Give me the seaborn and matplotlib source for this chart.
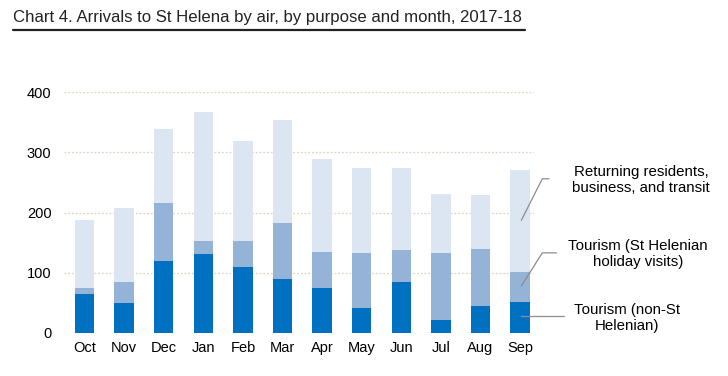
import pandas as pd
import matplotlib.pyplot as plt
import seaborn as sns
from matplotlib.lines import Line2D

# Monthly arrivals by air
months = ["Oct", "Nov", "Dec", "Jan", "Feb", "Mar",
          "Apr", "May", "Jun", "Jul", "Aug", "Sep"]
tourism_non_sh = [64, 49, 119, 131, 110, 89, 74, 42, 84, 21, 44, 51]
tourism_sh_holiday = [10, 35, 96, 21, 42, 93, 61, 91, 53, 111, 95, 50]
returning_other = [113, 123, 123, 214, 166, 171, 154, 141, 137, 99, 90, 170]

labels = ["Returning residents,\nbusiness, and transit",
          "Tourism (St Helenian\nholiday visits)",
          "Tourism (non-St\nHelenian)"]

df = pd.DataFrame({
    "month": months,
    "non_sh": tourism_non_sh,
    "sh": tourism_sh_holiday,
    "other": returning_other,
})
df["mid"] = df["non_sh"] + df["sh"]
df["total"] = df["mid"] + df["other"]

sns.set_style("white")
plt.rcParams["font.family"] = ["Liberation Sans", "DejaVu Sans"]

W, H = 728, 376
fig = plt.figure(figsize=(W / 100, H / 100), dpi=100)
ax = fig.add_axes([64 / W, 43 / H, 470 / W, 241 / H])

# Stacked bars: draw cumulative totals from the top down
for col, color in [("total", "#DCE6F2"), ("mid", "#95B3D7"), ("non_sh", "#0070C0")]:
    sns.barplot(data=df, x="month", y=col, color=color, saturation=1,
                width=0.49, linewidth=0, ax=ax, zorder=3)

ax.set_xlim(-0.52, 11.35)
ax.set_ylim(0, 400)
ax.set_yticks([0, 100, 200, 300, 400])
ax.yaxis.grid(True, linestyle=(0, (1.5, 1.5)), color="#DDD5BE", linewidth=0.9, zorder=0)
ax.set_axisbelow(True)
for s in ax.spines.values():
    s.set_visible(False)
ax.set_xlabel("")
ax.set_ylabel("")
ax.tick_params(axis="both", length=0, labelsize=10.5, colors="#000000")
ax.tick_params(axis="y", pad=9)
ax.tick_params(axis="x", pad=6)

# Title with underline
fig.text(13 / W, 1 - 22 / H, "Chart 4. Arrivals to St Helena by air, by purpose and month, 2017-18",
         fontsize=12.1, color="#222222", va="baseline", ha="left")
fig.add_artist(Line2D([13 / W, 525 / W], [1 - 30 / H, 1 - 30 / H],
                      color="#222222", linewidth=1.6))

# Series labels with leader lines to the September bar
leader = [
    ([11.03, 11.56, 11.73], [187, 256, 256]),
    ([11.03, 11.56, 11.92], [78, 133, 133]),
    ([11.03, 12.12], [28, 28]),
]
for xs, ys in leader:
    ax.plot(xs, ys, color="#8C8C8C", linewidth=0.9, clip_on=False, zorder=4)

text_pos = [(641, 180), (638, 254), (627, 318)]
for (px, py), lab in zip(text_pos, labels):
    fig.text(px / W, 1 - py / H, lab, fontsize=10.8, ha="center", va="center",
             linespacing=1.2, color="#000000")

fig.savefig("out.png", dpi=100)
